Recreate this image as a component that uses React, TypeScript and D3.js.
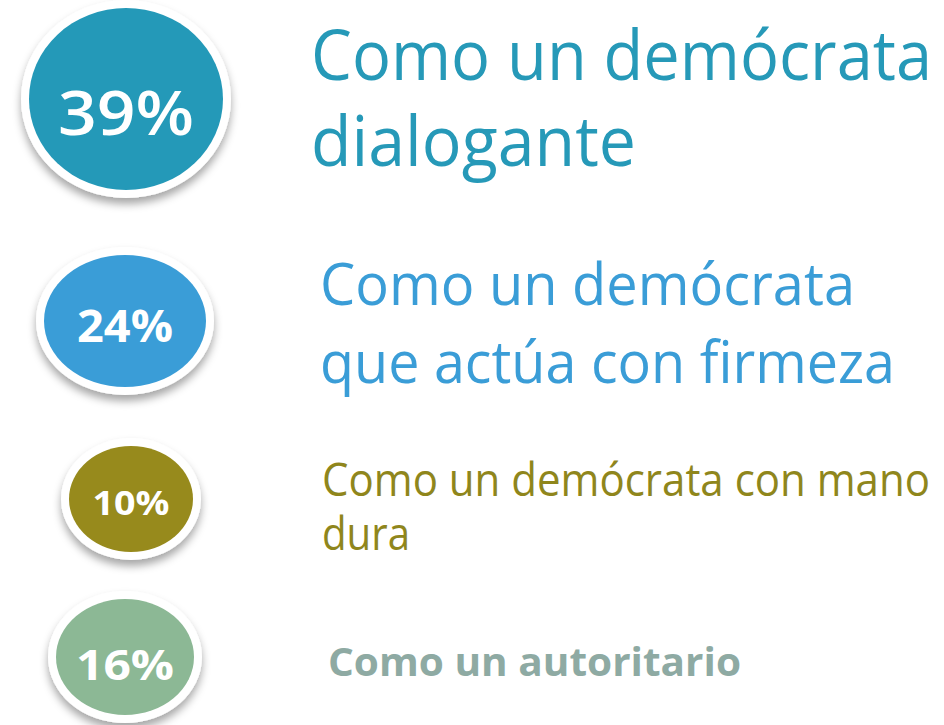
import React from "react";
import * as d3 from "d3";

const values = [39, 24, 10, 16];
const labelLines = [
  ["Como un demócrata", "dialogante"],
  ["Como un demócrata", "que actúa con firmeza"],
  ["Como un demócrata con mano", "dura"],
  ["Como un autoritario"],
];
const fillColors = ["#2499b8", "#3a9dd7", "#978a1c", "#8cb895"];
const textColors = ["#2699b8", "#3a9dd7", "#8f861c", "#8eaaa3"];

// layout (positions / sizes)
const circles = [
  { cx: 126, cy: 99, rx: 97, ry: 91, ring: 8, numSize: 62, numW: 136, numY: 135, numWeight: 600 },
  { cx: 125, cy: 321, rx: 81, ry: 66, ring: 8, numSize: 44, numW: 96, numY: 342, numWeight: 700 },
  { cx: 131, cy: 499, rx: 62, ry: 53, ring: 8, numSize: 34, numW: 77, numY: 515, numWeight: 700 },
  { cx: 125, cy: 657, rx: 69, ry: 58, ring: 8, numSize: 42, numW: 98, numY: 680, numWeight: 700 },
];
const labels = [
  { x: 311, ys: [80, 166], size: 70, widths: [621, 325], weight: 400 },
  { x: 320, ys: [305, 383], size: 58, widths: [535, 575], weight: 400 },
  { x: 322, ys: [496, 550], size: 46, widths: [608, 88], weight: 400 },
  { x: 328, ys: [676], size: 40, widths: [413], weight: 700 },
];

const fmt = d3.format("d");

export default function App() {
  return (
    <svg width={944} height={725} style={{ position: "absolute", left: 0, top: 0, background: "#fff" }}
      fontFamily="'Open Sans', 'Noto Sans', sans-serif">
      <defs>
        <filter id="sh" x="-20%" y="-20%" width="140%" height="150%">
          <feDropShadow dx="0" dy="6" stdDeviation="4" floodColor="#000" floodOpacity="0.35" />
        </filter>
      </defs>
      {values.map((v, i) => {
        const c = circles[i];
        return (
          <g key={i}>
            <ellipse cx={c.cx} cy={c.cy} rx={c.rx + c.ring} ry={c.ry + c.ring} fill="#fff" filter="url(#sh)" />
            <ellipse cx={c.cx} cy={c.cy} rx={c.rx} ry={c.ry} fill={fillColors[i]} />
            <text x={c.cx} y={c.numY} textAnchor="middle" fill="#fff" fontSize={c.numSize}
              fontWeight={c.numWeight} textLength={c.numW} lengthAdjust="spacingAndGlyphs">
              {fmt(v) + "%"}
            </text>
          </g>
        );
      })}
      {labelLines.map((lines, i) => {
        const l = labels[i];
        return (
          <g key={i}>
            {lines.map((t, j) => (
              <text key={j} x={l.x} y={l.ys[j]} fill={textColors[i]} fontSize={l.size}
                fontWeight={l.weight} textLength={l.widths[j]} lengthAdjust="spacingAndGlyphs">
                {t}
              </text>
            ))}
          </g>
        );
      })}
    </svg>
  );
}
